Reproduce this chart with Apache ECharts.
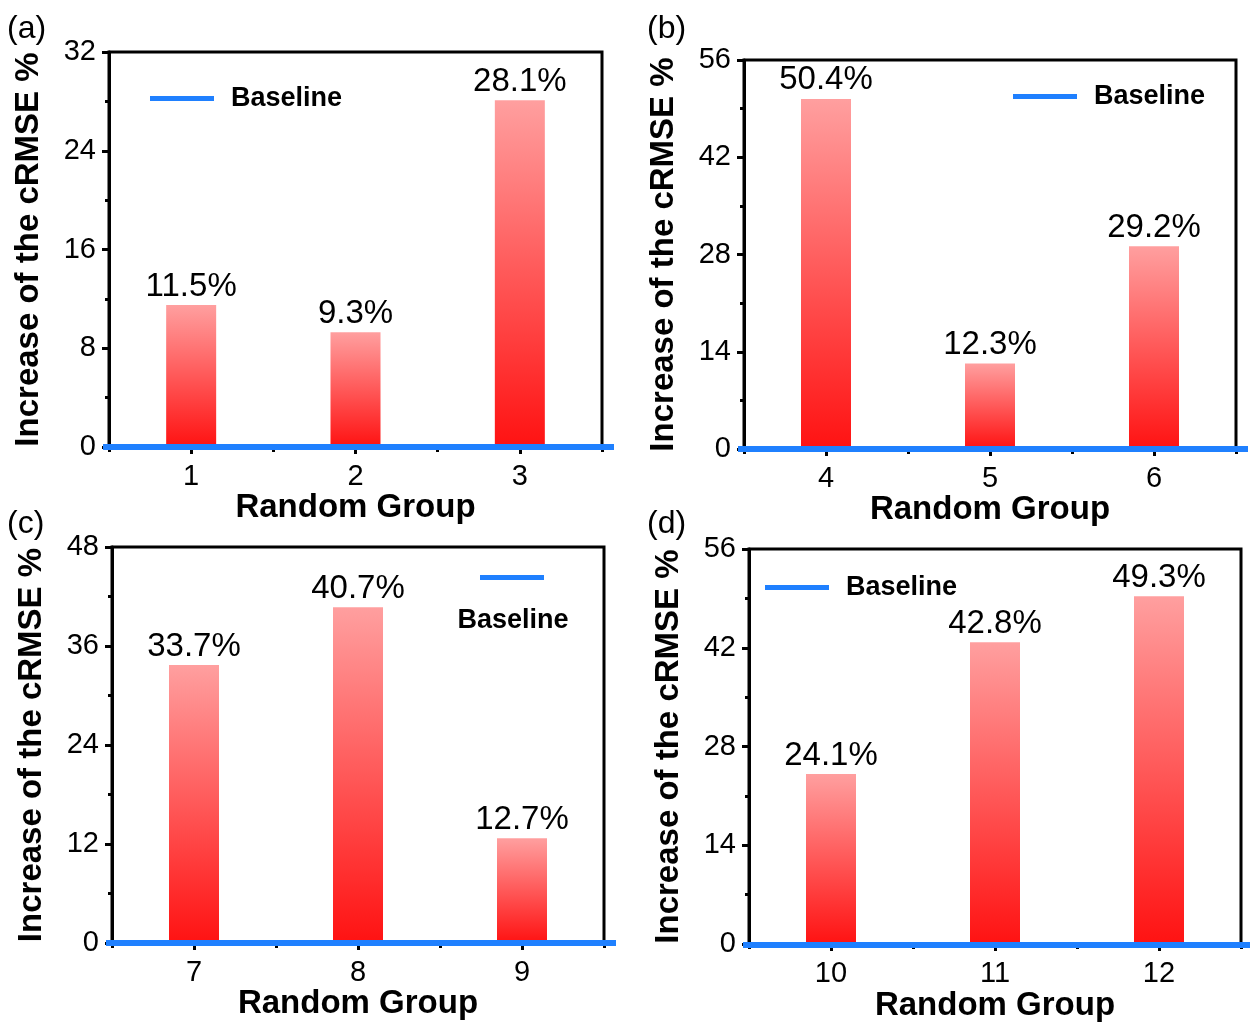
<!DOCTYPE html>
<html>
<head>
<meta charset="utf-8">
<title>Increase of the cRMSE by random group</title>
<script src="https://cdn.jsdelivr.net/npm/echarts@6/dist/echarts.min.js"></script>
<style>
  html, body { margin: 0; padding: 0; background: #fff; }
  #chart { width: 1250px; height: 1023px; }
</style>
</head>
<body>
<div id="chart"></div>
<script>
// ---- data -------------------------------------------------------------
const groupsA = ['1', '2', '3'];
const groupsB = ['4', '5', '6'];
const groupsC = ['7', '8', '9'];
const groupsD = ['10', '11', '12'];

const increaseA = [11.5, 9.3, 28.1];
const increaseB = [50.4, 12.3, 29.2];
const increaseC = [33.7, 40.7, 12.7];
const increaseD = [24.1, 42.8, 49.3];

const yMaxes = [32, 56, 48, 56];
const ySteps = [8, 14, 12, 14];
const panelTags = ['(a)', '(b)', '(c)', '(d)'];
const baselineValue = 0;

// ---- styling ----------------------------------------------------------
const FONT = "'Liberation Sans', Arial, Helvetica, sans-serif";
const BLUE = '#1f80ff';
const BLACK = '#000';

// plot boxes [left, top, width, height]
const boxes = [
  [109, 52, 493, 395],
  [744, 60, 492, 389],
  [112, 547, 492, 396],
  [749, 549, 492, 396]
];

// legend anchor per panel; panel (c) gets its text below the icon
const legendPos = [
  { left: 150, top: 85 },
  { left: 1013, top: 83 },
  { left: 480, top: 575 },
  { left: 765, top: 574 }
];

const groups = [groupsA, groupsB, groupsC, groupsD];
const values = [increaseA, increaseB, increaseC, increaseD];

const grid = [], xAxis = [], yAxis = [], series = [], legend = [], title = [];

// plot grids (0..3)
boxes.forEach((b, i) => {
  grid.push({
    left: b[0], top: b[1], width: b[2], height: b[3],
    show: true, borderColor: BLACK, borderWidth: 3, backgroundColor: 'transparent'
  });
});
// companion grids (4..7) for the baseline, a little wider than each plot box
boxes.forEach((b) => {
  grid.push({ left: b[0] - 6, top: b[1], width: b[2] + 18, height: b[3], show: false });
});

boxes.forEach((b, i) => {
  const cats = groups[i];
  // category axis carrying the bars, labels and centre ticks
  xAxis.push({
    gridIndex: i, type: 'category', data: cats, position: 'bottom',
    axisLine: { show: false },
    axisTick: { show: true, alignWithLabel: true, length: 7, lineStyle: { color: BLACK, width: 3 } },
    axisLabel: { margin: 15, fontSize: 29, color: BLACK, fontFamily: FONT },
    name: 'Random Group', nameLocation: 'middle', nameGap: 37,
    nameTextStyle: { fontSize: 33, fontWeight: 'bold', color: BLACK, fontFamily: FONT }
  });
  // boundary ticks between groups
  xAxis.push({
    gridIndex: i, type: 'category', data: cats, position: 'bottom',
    axisLine: { show: false },
    axisTick: { show: true, length: 5, lineStyle: { color: BLACK, width: 3 } },
    axisLabel: { show: false }
  });

  yAxis.push({
    gridIndex: i, type: 'value', min: 0, max: yMaxes[i], interval: ySteps[i],
    axisLine: { show: true, lineStyle: { color: BLACK, width: 3 } },
    axisTick: { show: true, length: 7, lineStyle: { color: BLACK, width: 3 } },
    minorTick: { show: true, splitNumber: 2, length: 4, lineStyle: { color: BLACK, width: 3 } },
    splitLine: { show: false },
    minorSplitLine: { show: false },
    axisLabel: { margin: 13, fontSize: 29, color: BLACK, fontFamily: FONT },
    name: 'Increase of the cRMSE %', nameLocation: 'middle', nameGap: 64,
    nameTextStyle: { fontSize: 33, fontWeight: 'bold', color: BLACK, fontFamily: FONT }
  });

  series.push({
    type: 'bar',
    xAxisIndex: i * 2, yAxisIndex: i,
    data: values[i],
    barWidth: 50,
    itemStyle: {
      color: new echarts.graphic.LinearGradient(0, 0, 0, 1, [
        { offset: 0, color: '#ff9f9f' },
        { offset: 1, color: '#ff1212' }
      ])
    },
    label: {
      show: true, position: 'top', distance: 2,
      fontSize: 33, color: BLACK, fontFamily: FONT,
      formatter: p => p.value.toFixed(1) + '%'
    },
    z: 2
  });

  legend.push({
    data: ['Baseline'], left: legendPos[i].left, top: legendPos[i].top, padding: 0,
    icon: 'rect', itemWidth: 64, itemHeight: 5,
    itemStyle: { color: BLUE },
    selectedMode: false,
    formatter: i === 2 ? () => '' : '{name}',
    textStyle: { fontSize: 27, fontWeight: 'bold', color: BLACK, fontFamily: FONT, padding: [0, 0, 0, 12] }
  });

  title.push({
    text: panelTags[i],
    left: [7, 647, 7, 647][i], top: [13, 13, 508, 508][i],
    padding: 0,
    textStyle: { fontSize: 32, fontWeight: 'normal', color: BLACK, fontFamily: FONT }
  });
});

// baseline axes on the companion grids: x spans the full companion width
boxes.forEach((b, i) => {
  xAxis.push({ gridIndex: 4 + i, type: 'value', min: 0, max: 1, show: false });
  yAxis.push({ gridIndex: 4 + i, type: 'value', min: 0, max: yMaxes[i], show: false });
  series.push({
    type: 'line', name: 'Baseline',
    xAxisIndex: 8 + i, yAxisIndex: 4 + i,
    data: [[0, baselineValue], [1, baselineValue]],
    symbol: 'none',
    lineStyle: { color: BLUE, width: 6 },
    itemStyle: { color: BLUE },
    z: 5
  });
});

// legend text of panel (c) sits under its line
title.push({
  text: 'Baseline', left: 513, top: 607, textAlign: 'center', padding: 0,
  textStyle: { fontSize: 27, fontWeight: 'bold', color: BLACK, fontFamily: FONT }
});

const chart = echarts.init(document.getElementById('chart'), null, { renderer: 'canvas' });
chart.setOption({
  animation: false,
  backgroundColor: '#fff',
  title, grid, xAxis, yAxis, series, legend
});
</script>
</body>
</html>
